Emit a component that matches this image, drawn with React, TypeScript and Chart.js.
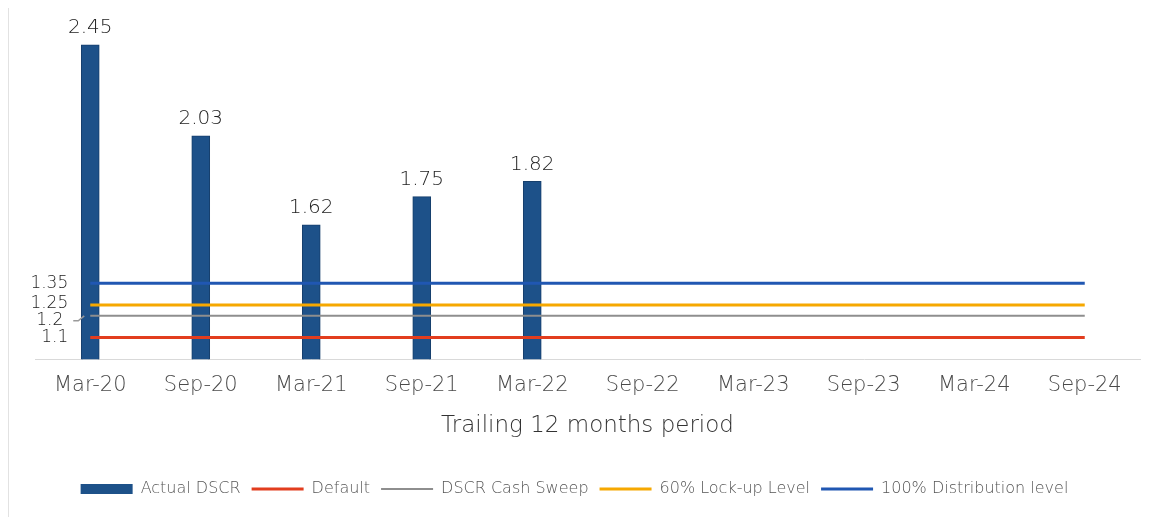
import React, { useEffect, useRef } from "react";
import { Chart, registerables } from "chart.js";

Chart.register(...registerables);

const categories = ["Mar-20", "Sep-20", "Mar-21", "Sep-21", "Mar-22", "Sep-22", "Mar-23", "Sep-23", "Mar-24", "Sep-24"];
const actualDSCR = [2.45, 2.03, 1.62, 1.75, 1.82, null, null, null, null, null];
const defaultLevel = [1.1, 1.1, 1.1, 1.1, 1.1, 1.1, 1.1, 1.1, 1.1, 1.1];
const cashSweepLevel = [1.2, 1.2, 1.2, 1.2, 1.2, 1.2, 1.2, 1.2, 1.2, 1.2];
const lockUpLevel = [1.25, 1.25, 1.25, 1.25, 1.25, 1.25, 1.25, 1.25, 1.25, 1.25];
const distributionLevel = [1.35, 1.35, 1.35, 1.35, 1.35, 1.35, 1.35, 1.35, 1.35, 1.35];
const seriesNames = ["Actual DSCR", "Default", "DSCR Cash Sweep", "60% Lock-up Level", "100% Distribution level"];
const seriesColors = ["#1d5189", "#e23d1e", "#8e8e8e", "#f6a800", "#2057b2"];
const axisTitle = "Trailing 12 months period";

const FONT = "'DejaVu Sans Light', 'DejaVu Sans', sans-serif";

const labelPlugin = {
  id: "valueLabels",
  afterDatasetsDraw(chart: any) {
    const ctx = chart.ctx;
    ctx.save();
    const barMeta = chart.getDatasetMeta(0);
    ctx.font = `200 20px ${FONT}`;
    ctx.fillStyle = "#222222";
    ctx.textAlign = "center";
    ctx.textBaseline = "bottom";
    barMeta.data.forEach((el: any, i: number) => {
      const v = actualDSCR[i];
      if (v == null) return;
      ctx.fillText(v.toFixed(2), el.x, el.y - 7);
    });
    ctx.font = `200 17px ${FONT}`;
    ctx.textAlign = "right";
    ctx.textBaseline = "middle";
    ctx.fillStyle = "#222222";
    for (let d = 1; d <= 4; d++) {
      const meta = chart.getDatasetMeta(d);
      const el: any = meta.data[0];
      const v = chart.data.datasets[d].data[0];
      let dx = 22;
      let dy = 0;
      if (d === 2) {
        dx = 27;
        dy = 5;
        ctx.beginPath();
        ctx.strokeStyle = "#9a9a9a";
        ctx.lineWidth = 1.5;
        ctx.moveTo(el.x - 17, el.y + dy);
        ctx.lineTo(el.x - 12, el.y + dy);
        ctx.lineTo(el.x - 6, el.y);
        ctx.stroke();
      }
      if (d === 3) dy = -1;
      ctx.fillText(String(v), el.x - dx, el.y + dy);
    }
    ctx.restore();
  },
};

export default function App() {
  const ref = useRef<HTMLCanvasElement | null>(null);
  useEffect(() => {
    if (!ref.current) return;
    const lineDs = (idx: number, data: number[], width: number) => ({
      type: "line" as const,
      label: seriesNames[idx],
      data,
      borderColor: seriesColors[idx],
      backgroundColor: seriesColors[idx],
      borderWidth: width,
      pointRadius: 0,
      pointHoverRadius: 0,
      fill: false,
      tension: 0,
      order: 0,
    });
    const chart = new Chart(ref.current, {
      data: {
        labels: categories,
        datasets: [
          {
            type: "bar",
            label: seriesNames[0],
            data: actualDSCR as any,
            backgroundColor: seriesColors[0],
            borderColor: "#163f6c",
            borderWidth: 1,
            barThickness: 18,
            order: 10,
          } as any,
          lineDs(1, defaultLevel, 3),
          lineDs(2, cashSweepLevel, 2),
          lineDs(3, lockUpLevel, 3),
          lineDs(4, distributionLevel, 3),
        ],
      },
      options: {
        animation: false,
        responsive: true,
        maintainAspectRatio: false,
        layout: { padding: { left: 0, right: 11, top: 28, bottom: 10 } },
        scales: {
          x: {
            type: "category",
            offset: true,
            grid: { display: false, drawTicks: false },
            border: { display: true, color: "#d9d9d9", width: 1 },
            ticks: {
              color: "#4a4a4a",
              font: { family: FONT, size: 21, weight: "200" as any },
              padding: 14,
              maxRotation: 0,
              autoSkip: false,
            },
            title: {
              display: true,
              text: axisTitle,
              color: "#333333",
              font: { family: FONT, size: 23, weight: "200" as any },
              padding: { top: 0, bottom: 30 },
            },
          },
          y: {
            display: true,
            min: 1.0,
            max: 2.5,
            grid: { display: false, drawTicks: false },
            border: { display: false },
            ticks: { display: false },
            afterFit: (s: any) => {
              s.width = 26;
            },
          },
        },
        plugins: {
          tooltip: { enabled: false },
          legend: {
            position: "bottom",
            labels: {
              usePointStyle: true,
              pointStyleWidth: 52,
              boxHeight: 10,
              padding: 11,
              color: "#555555",
              font: { family: FONT, size: 16, weight: "200" as any },
              sort: (a: any, b: any) => a.datasetIndex - b.datasetIndex,
              generateLabels: (c: any) => {
                const items = (Chart.defaults.plugins.legend.labels as any).generateLabels(c);
                return items.map((it: any) => {
                  const i = it.datasetIndex;
                  if (i === 0) {
                    return { ...it, pointStyle: "rect", fillStyle: seriesColors[0], strokeStyle: seriesColors[0], lineWidth: 0 };
                  }
                  return { ...it, pointStyle: "line", fillStyle: seriesColors[i], strokeStyle: seriesColors[i], lineWidth: i === 2 ? 2 : 3 };
                });
              },
            },
          },
        },
      },
      plugins: [labelPlugin],
    } as any);
    return () => chart.destroy();
  }, []);

  return (
    <div
      style={{
        width: 1143,
        height: 512,
        marginTop: -3,
        borderTop: "1px solid #e2e2e2",
        borderLeft: "1px solid #e2e2e2",
        boxSizing: "border-box",
        position: "relative",
      }}
    >
      <div style={{ position: "absolute", left: 0, top: 0, width: 1142, height: 511 }}>
        <canvas ref={ref} />
      </div>
    </div>
  );
}
